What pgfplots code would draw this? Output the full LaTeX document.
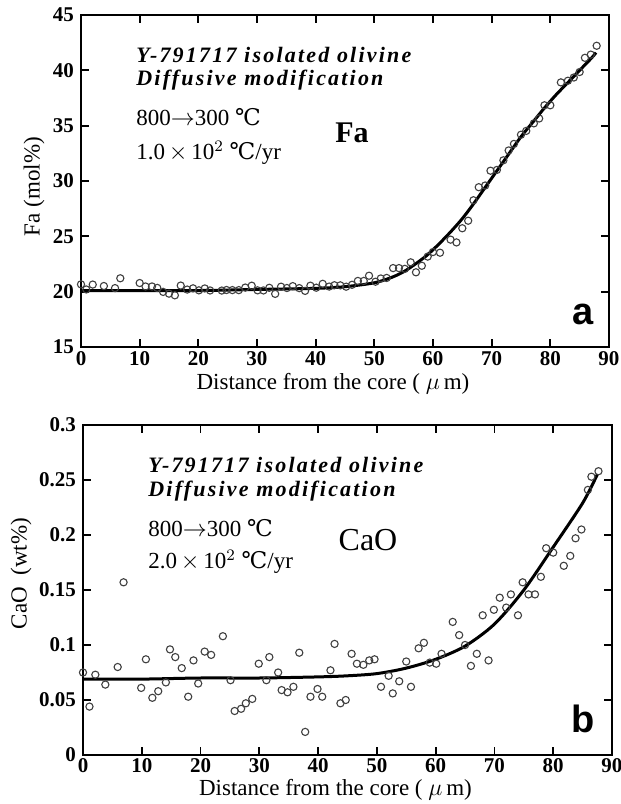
\documentclass[border=0pt]{standalone}
\usepackage{fontspec}
\setmainfont{Liberation Serif}
\newfontfamily\annfont[LetterSpace=10]{Liberation Serif}
\newfontfamily\sansfnt{Liberation Sans}
\newfontfamily\symfont{DejaVu Serif}
\usepackage{pgfplots}
\usepackage{pgfplotstable}
\pgfplotsset{compat=1.18}

\pgfplotstableread{
x y
0 20.66
0.9 20.2
2.0 20.64
3.9 20.51
5.8 20.32
6.7 21.21
10.0 20.78
11.0 20.47
12.1 20.47
13.0 20.34
14.0 19.98
15.0 19.82
16.0 19.67
17.0 20.55
18.1 20.19
19.1 20.30
20.1 20.12
21.1 20.29
22.0 20.11
24.0 20.10
24.8 20.15
25.8 20.14
26.9 20.14
28.0 20.37
29.1 20.54
30.1 20.12
31.1 20.11
32.1 20.35
33.1 19.80
34.1 20.45
35.1 20.33
36.1 20.50
37.2 20.32
38.2 20.07
39.1 20.54
40.1 20.36
41.2 20.71
42.3 20.46
43.2 20.58
44.2 20.57
45.2 20.45
46.2 20.62
47.2 20.97
48.2 20.97
49.1 21.44
50.2 20.90
51.1 21.19
52.1 21.24
53.2 22.13
54.2 22.13
55.2 22.06
56.2 22.65
57.1 21.75
58.1 22.34
59.1 23.17
60.0 23.58
61.2 23.52
63.0 24.70
64.0 24.45
65.0 25.73
66.0 26.41
66.9 28.26
67.8 29.44
68.9 29.59
69.8 30.93
70.9 31.0
72.0 31.87
72.9 32.76
73.8 33.35
75.0 34.18
75.9 34.53
77.2 35.21
78.1 35.65
79.0 36.84
80.0 36.84
81.8 38.91
83.0 39.06
84.0 39.35
85.0 39.85
85.9 41.13
86.9 41.42
87.9 42.22
}\fadata

\pgfplotstableread{
x y
0 20.1
10 20.1
20 20.1
30 20.2
40 20.3
45 20.45
50 20.8
53 21.3
55 21.8
57 22.5
59 23.3
61 24.3
63 25.4
65 26.6
67 28.0
69 29.5
71 31.0
73 32.5
75 34.0
77 35.3
79 36.6
81 37.8
83 38.9
85 40.0
87 41.1
87.8 41.6
}\facurve

\pgfplotstableread{
x y
0 0.075
1.1 0.044
2.1 0.073
3.8 0.064
5.9 0.080
6.9 0.157
9.9 0.061
10.7 0.087
11.8 0.052
12.8 0.058
14.1 0.066
14.8 0.096
15.7 0.089
16.8 0.079
17.9 0.053
18.8 0.086
19.6 0.065
20.7 0.094
21.8 0.091
23.8 0.108
25.1 0.068
25.8 0.040
26.9 0.042
27.7 0.047
28.8 0.051
29.9 0.083
31.2 0.068
31.7 0.089
33.2 0.075
33.8 0.059
34.8 0.057
35.8 0.062
36.8 0.093
37.8 0.021
38.7 0.053
39.9 0.060
40.7 0.053
42.1 0.077
42.8 0.101
43.8 0.047
44.7 0.050
45.7 0.092
46.6 0.083
47.7 0.082
48.7 0.086
49.6 0.087
50.7 0.062
52.0 0.072
52.7 0.056
53.8 0.067
55.0 0.085
55.8 0.062
57.1 0.097
58.0 0.102
59.0 0.084
60.1 0.083
61.0 0.092
62.9 0.121
64.0 0.109
65.0 0.100
66.0 0.081
67.0 0.092
68.0 0.127
69.0 0.086
69.9 0.132
70.9 0.143
72.0 0.134
72.8 0.146
74.0 0.127
74.8 0.157
75.8 0.146
76.9 0.146
77.9 0.162
78.8 0.188
80.0 0.184
81.8 0.172
82.9 0.181
83.8 0.197
84.8 0.205
85.9 0.241
86.5 0.253
87.7 0.258
}\caodata

\pgfplotstableread{
x y
0 0.069
10 0.069
20 0.070
30 0.070
40 0.071
45 0.072
50 0.074
55 0.079
60 0.087
65 0.099
70 0.119
75 0.150
80 0.189
85 0.229
87.5 0.255
}\caocurve

\pgfplotsset{
  panel/.style={
    scale only axis,
    xmin=0, xmax=90,
    xtick={0,10,...,90},
    axis line style={line width=1pt},
    tick style={line width=0.9pt, black},
    major tick length=4pt,
    tick align=inside,
    /pgf/number format/assume math mode=true,
    tick label style={font=\fontsize{10.5}{11}\selectfont\bfseries},
    xlabel={Distance from the core ( $\mu$\,m)},
    xlabel style={font=\fontsize{11.5}{12}\selectfont, inner sep=1pt,
      at={(axis description cs:0.5,0)}, anchor=base, xshift=-6pt},
    clip=false,
  },
  dots/.style={only marks, mark=o, mark size=1.8pt, mark options={line width=0.55pt, draw=black!75}},
  fit/.style={no marks, line width=1.5pt, black, smooth},
}

\begin{document}
\begin{tikzpicture}
\useasboundingbox (0,0) rectangle (310.5pt,402pt);
% Top panel
\begin{axis}[panel,
  at={(40.5pt,228.5pt)}, anchor=south west,
  width=264pt, height=166pt,
  ymin=15, ymax=45, ytick={15,20,...,45},
  xticklabel style={anchor=base, inner sep=1pt, yshift=-9.5pt},
  xlabel style={yshift=-21.5pt},
  ylabel={Fa (mol\%)},
  ylabel style={font=\fontsize{11.5}{12}\selectfont, at={(axis description cs:-0.089,0.483)}, anchor=center, rotate=0},
]
\addplot[dots] table[x=x,y=y] {\fadata};
\addplot[fit] table[x=x,y=y] {\facurve};
\end{axis}
% Bottom panel
\begin{axis}[panel,
  at={(41.5pt,24.5pt)}, anchor=south west,
  width=264.5pt, height=165pt,
  ymin=0, ymax=0.3, ytick={0,0.05,...,0.3},
  yticklabel style={/pgf/number format/fixed, /pgf/number format/precision=2},
  xticklabel style={anchor=base, inner sep=1pt, yshift=-8.5pt},
  xlabel style={yshift=-20pt},
  ylabel={CaO~~(wt\%)},
  ylabel style={font=\fontsize{11.5}{12}\selectfont, at={(axis description cs:-0.117,0.55)}, anchor=center, rotate=0},
]
\addplot[dots] table[x=x,y=y] {\caodata};
\addplot[fit] table[x=x,y=y] {\caocurve};
\end{axis}

% Top annotations
\node[anchor=base west, inner sep=0pt, font=\annfont\fontsize{11}{12}\selectfont\bfseries\itshape] at (68pt,370.5pt) {Y-791717 isolated olivine};
\node[anchor=base west, inner sep=0pt, font=\annfont\fontsize{11}{12}\selectfont\bfseries\itshape] at (68pt,359pt) {Diffusive modification};
\node[anchor=base west, inner sep=0pt, font=\fontsize{11.5}{12}\selectfont] at (68pt,339pt) {800$\rightarrow$300 {\symfont ℃}};
\node[anchor=base west, inner sep=0pt, font=\fontsize{11.5}{12}\selectfont] at (68pt,322pt) {1.0\,$\times$\,10$^{2}$ {\symfont ℃}/yr};
\node[anchor=base, inner sep=0pt, font=\fontsize{15}{16}\selectfont\bfseries] at (176pt,330.5pt) {Fa};
\node[anchor=base, inner sep=0pt, font=\sansfnt\fontsize{19}{20}\selectfont\bfseries] at (291.5pt,239.5pt) {a};

% Bottom annotations
\node[anchor=base west, inner sep=0pt, font=\annfont\fontsize{11}{12}\selectfont\bfseries\itshape] at (74pt,165.5pt) {Y-791717 isolated olivine};
\node[anchor=base west, inner sep=0pt, font=\annfont\fontsize{11}{12}\selectfont\bfseries\itshape] at (74pt,153.5pt) {Diffusive modification};
\node[anchor=base west, inner sep=0pt, font=\fontsize{11.5}{12}\selectfont] at (74pt,133.5pt) {800$\rightarrow$300 {\symfont ℃}};
\node[anchor=base west, inner sep=0pt, font=\fontsize{11.5}{12}\selectfont] at (74pt,117.5pt) {2.0\,$\times$\,10$^{2}$ {\symfont ℃}/yr};
\node[anchor=base, inner sep=0pt, font=\fontsize{16}{18}\selectfont] at (184pt,126.5pt) {CaO};
\node[anchor=base, inner sep=0pt, font=\sansfnt\fontsize{19}{20}\selectfont\bfseries] at (291.5pt,35.5pt) {b};
\end{tikzpicture}
\end{document}
